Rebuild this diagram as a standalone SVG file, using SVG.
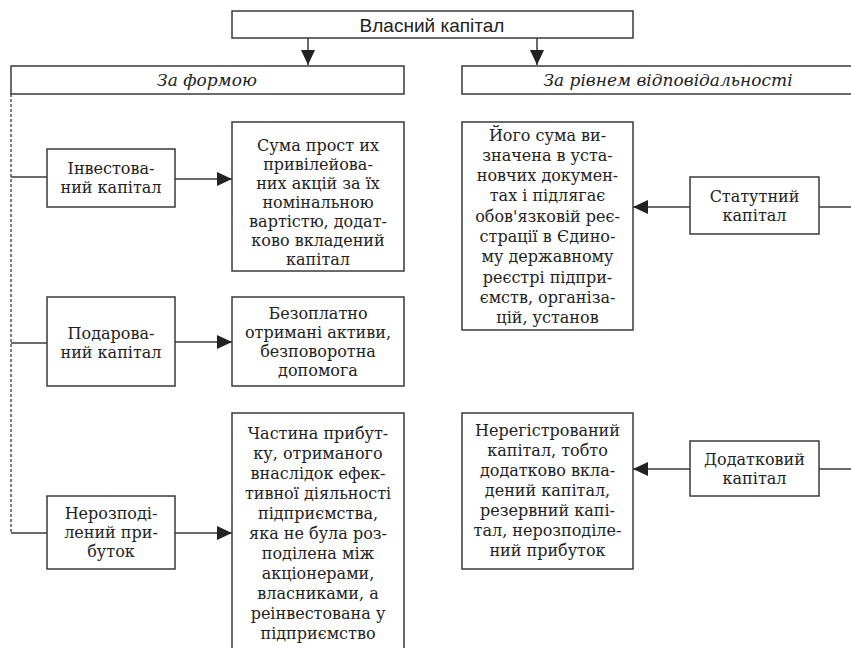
<svg xmlns="http://www.w3.org/2000/svg" width="851" height="648" viewBox="0 0 851 648">
<style>
.box{fill:#fff;stroke:#3a3a3a;stroke-width:1.5}
.t{font-family:"DejaVu Serif","Liberation Serif",serif;font-size:16px;fill:#222;text-anchor:middle;dominant-baseline:central}
.h{font-family:"DejaVu Serif","Liberation Serif",serif;font-style:italic;font-size:17px;fill:#222;text-anchor:middle;dominant-baseline:central}
.top{font-family:"Liberation Sans","DejaVu Sans",sans-serif;font-size:19px;fill:#222;text-anchor:middle;dominant-baseline:central}
.ln{fill:none;stroke:#3a3a3a;stroke-width:1.5}
.dash{fill:none;stroke:#555;stroke-width:1.5;stroke-dasharray:3 2}
</style>
<defs>
<marker id="ah" markerUnits="userSpaceOnUse" markerWidth="16" markerHeight="14" refX="15" refY="7" orient="auto">
<path d="M0,0 L15,7 L0,14 Z" fill="#222"/>
</marker>
</defs>
<g id="connectors">
<line class="ln" x1="308" y1="38" x2="308" y2="65" marker-end="url(#ah)"/>
<line class="ln" x1="537" y1="38" x2="537" y2="65" marker-end="url(#ah)"/>
<line class="dash" x1="11" y1="94" x2="11" y2="533"/>
<line class="ln" x1="11" y1="177" x2="47" y2="177"/>
<line class="ln" x1="11" y1="343" x2="47" y2="343"/>
<line class="ln" x1="11" y1="533" x2="47" y2="533"/>
<line class="ln" x1="175" y1="179" x2="232" y2="179" marker-end="url(#ah)"/>
<line class="ln" x1="175" y1="342" x2="232" y2="342" marker-end="url(#ah)"/>
<line class="ln" x1="175" y1="533" x2="232" y2="533" marker-end="url(#ah)"/>
<line class="ln" x1="690" y1="207" x2="633" y2="207" marker-end="url(#ah)"/>
<line class="ln" x1="690" y1="469" x2="633" y2="469" marker-end="url(#ah)"/>
<line class="ln" x1="819" y1="207" x2="852" y2="207"/>
<line class="ln" x1="819" y1="469" x2="852" y2="469"/>
</g>
<g id="n-vlasnyi">
<rect class="box" x="232" y="11" width="401" height="27"/>
<text class="top" x="432" y="25">Власний капітал</text>
</g>
<g id="n-zaformoyu">
<rect class="box" x="11" y="66" width="393" height="28"/>
<text class="h" x="207" y="80">За формою</text>
</g>
<g id="n-zarivnem">
<rect class="box" x="462" y="66" width="392" height="28"/>
<text class="h" x="668" y="80">За рівнем відповідальності</text>
</g>
<g id="n-invest">
<rect class="box" x="47" y="149" width="128" height="58"/>
<text class="t" x="111" y="168.5">Інвестова-</text>
<text class="t" x="111" y="187.5">ний капітал</text>
</g>
<g id="n-suma">
<rect class="box" x="232" y="122" width="172" height="149"/>
<text class="t" x="318" y="145">Сума прост их</text>
<text class="t" x="318" y="164">привілейова-</text>
<text class="t" x="318" y="183">них акцій за їх</text>
<text class="t" x="318" y="202">номінальною</text>
<text class="t" x="318" y="221">вартістю, додат-</text>
<text class="t" x="318" y="240">ково вкладений</text>
<text class="t" x="318" y="259">капітал</text>
</g>
<g id="n-podar">
<rect class="box" x="47" y="297" width="128" height="89"/>
<text class="t" x="111" y="333">Подарова-</text>
<text class="t" x="111" y="352">ний капітал</text>
</g>
<g id="n-bezopl">
<rect class="box" x="232" y="297" width="172" height="89"/>
<text class="t" x="318" y="313.5">Безоплатно</text>
<text class="t" x="318" y="332.5">отримані активи,</text>
<text class="t" x="318" y="351.5">безповоротна</text>
<text class="t" x="318" y="370.5">допомога</text>
</g>
<g id="n-neroz">
<rect class="box" x="47" y="496" width="128" height="73"/>
<text class="t" x="111" y="513.5">Нерозподі-</text>
<text class="t" x="111" y="532.5">лений при-</text>
<text class="t" x="111" y="551.5">буток</text>
</g>
<g id="n-chastyna">
<rect class="box" x="232" y="413" width="172" height="240"/>
<text class="t" x="318" y="433">Частина прибут-</text>
<text class="t" x="318" y="453">ку, отриманого</text>
<text class="t" x="318" y="473">внаслідок ефек-</text>
<text class="t" x="318" y="493">тивної діяльності</text>
<text class="t" x="318" y="513">підприємства,</text>
<text class="t" x="318" y="533">яка не була роз-</text>
<text class="t" x="318" y="553">поділена між</text>
<text class="t" x="318" y="573">акціонерами,</text>
<text class="t" x="318" y="593">власниками, а</text>
<text class="t" x="318" y="613">реінвестована у</text>
<text class="t" x="318" y="633">підприємство</text>
</g>
<g id="n-yoho">
<rect class="box" x="462" y="122" width="171" height="208"/>
<text class="t" x="547.5" y="135">Його сума ви-</text>
<text class="t" x="547.5" y="155.3">значена в уста-</text>
<text class="t" x="547.5" y="175.6">новчих докумен-</text>
<text class="t" x="547.5" y="195.9">тах і підлягає</text>
<text class="t" x="547.5" y="216.2">обов'язковій реє-</text>
<text class="t" x="547.5" y="236.5">страції в Єдино-</text>
<text class="t" x="547.5" y="256.8">му державному</text>
<text class="t" x="547.5" y="277.1">реєстрі підпри-</text>
<text class="t" x="547.5" y="297.4">ємств, організа-</text>
<text class="t" x="547.5" y="317.7">цій, установ</text>
</g>
<g id="n-statut">
<rect class="box" x="690" y="177" width="129" height="57"/>
<text class="t" x="754.5" y="196">Статутний</text>
<text class="t" x="754.5" y="215">капітал</text>
</g>
<g id="n-nereg">
<rect class="box" x="462" y="413" width="171" height="156"/>
<text class="t" x="547.5" y="430">Нерегістрований</text>
<text class="t" x="547.5" y="450">капітал, тобто</text>
<text class="t" x="547.5" y="470">додатково вкла-</text>
<text class="t" x="547.5" y="490">дений капітал,</text>
<text class="t" x="547.5" y="510">резервний капі-</text>
<text class="t" x="547.5" y="530">тал, нерозподіле-</text>
<text class="t" x="547.5" y="550">ний прибуток</text>
</g>
<g id="n-dodat">
<rect class="box" x="690" y="441" width="129" height="55"/>
<text class="t" x="754.5" y="459">Додатковий</text>
<text class="t" x="754.5" y="478">капітал</text>
</g>
</svg>
